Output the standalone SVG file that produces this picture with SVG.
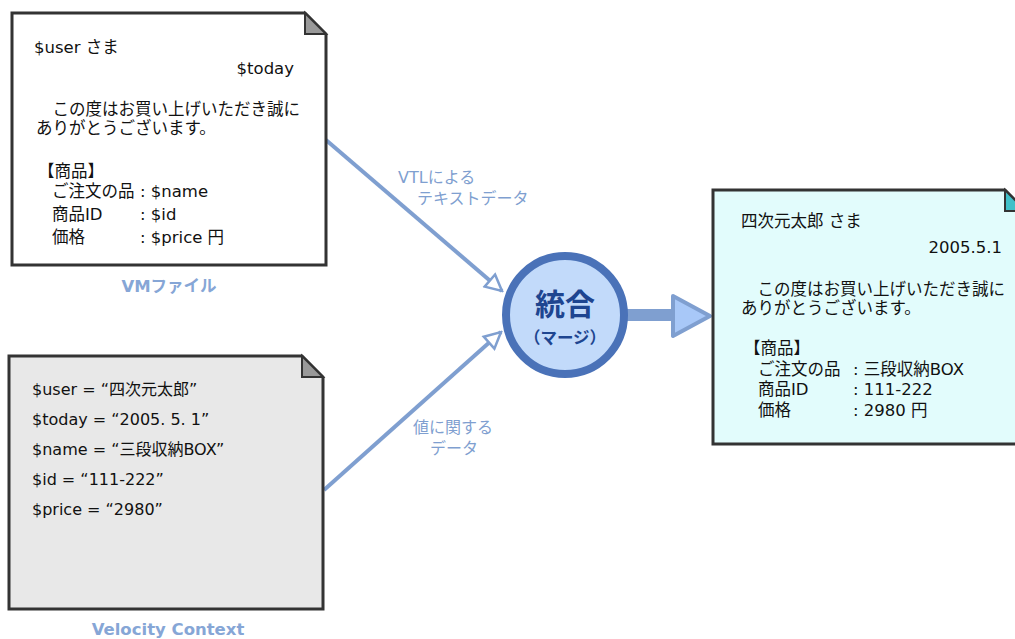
<svg xmlns="http://www.w3.org/2000/svg" width="1015" height="639" viewBox="0 0 1015 639">
<style>
.doc{stroke:#333;stroke-width:3;stroke-linejoin:miter}
.t{font-family:"DejaVu Sans","Noto Sans CJK JP",sans-serif;font-size:16.5px;fill:#111}
.v{font-family:"DejaVu Sans","Noto Sans CJK JP",sans-serif;font-size:16px;fill:#111}
.lab{font-family:"DejaVu Sans","Noto Sans CJK JP",sans-serif;font-size:16.5px;font-weight:bold;fill:#86a6d6}
.cl{font-family:"DejaVu Sans","Noto Sans CJK JP",sans-serif;font-size:16px;fill:#7f9fd0}
.conn{stroke:#7f9fd0;stroke-width:4;fill:none}
</style>
<defs>
<marker id="open" viewBox="0 0 20 20" refX="18" refY="10" markerWidth="20" markerHeight="20" markerUnits="userSpaceOnUse" orient="auto">
<path d="M2,2 L18,10 L2,18 Z" fill="#fff" stroke="#7f9fd0" stroke-width="2.5"/>
</marker>
</defs>
<rect width="1015" height="639" fill="#fff"/>

<g id="connectors">
<line class="conn" x1="326" y1="140" x2="502" y2="291" marker-end="url(#open)"/>
<line class="conn" x1="324" y1="490" x2="501" y2="332" marker-end="url(#open)"/>
<line x1="626" y1="315" x2="674" y2="315" stroke="#7f9fd0" stroke-width="12"/>
<path d="M673,296 L710,316 L673,336 Z" fill="#a8c8f8" stroke="#7f9fd0" stroke-width="4" stroke-linejoin="round"/>
<text class="cl" x="398" y="183">VTLによる</text>
<text class="cl" x="417" y="204">テキストデータ</text>
<text class="cl" x="413" y="433">値に関する</text>
<text class="cl" x="430" y="454">データ</text>
</g>

<g id="vm-file">
<path class="doc" d="M12,13 H305 L326,34 V265 H12 Z" fill="#fff"/>
<path d="M305,13 V34 H326 Z" fill="#999" stroke="#333" stroke-width="2"/>
<text class="t" x="34" y="53">$user さま</text>
<text class="t" x="294" y="74" text-anchor="end">$today</text>
<text class="t" x="36" y="115">　この度はお買い上げいただき誠に</text>
<text class="t" x="36" y="134">ありがとうございます。</text>
<text class="t" x="38" y="177">【商品】</text>
<text class="t" x="52" y="197">ご注文の品</text><text class="t" x="140" y="197">: $name</text>
<text class="t" x="52" y="220">商品ID</text><text class="t" x="140" y="220">: $id</text>
<text class="t" x="52" y="243">価格</text><text class="t" x="140" y="243">: $price 円</text>
<text class="lab" x="169" y="292" text-anchor="middle">VMファイル</text>
</g>

<g id="velocity-context">
<path class="doc" d="M9,356 H302 L323,377 V609 H9 Z" fill="#e8e8e8"/>
<path d="M302,356 V377 H323 Z" fill="#999" stroke="#333" stroke-width="2"/>
<text class="v" x="32" y="395">$user = “四次元太郎”</text>
<text class="v" x="32" y="425">$today = “2005. 5. 1”</text>
<text class="v" x="32" y="455">$name = “三段収納BOX”</text>
<text class="v" x="32" y="485">$id = “111-222”</text>
<text class="v" x="32" y="515">$price = “2980”</text>
<text class="lab" x="168" y="635" text-anchor="middle" font-size="17.5">Velocity Context</text>
</g>

<g id="merge">
<circle cx="565" cy="315" r="59" fill="#c2dafa" stroke="#4a72b8" stroke-width="8"/>
<text x="565" y="315" text-anchor="middle" font-family="'Noto Sans CJK JP',sans-serif" font-size="30" font-weight="bold" fill="#1e4590">統合</text>
<text x="565" y="344" text-anchor="middle" font-family="'Noto Sans CJK JP',sans-serif" font-size="16.5" font-weight="bold" fill="#1e4590">（マージ）</text>
</g>

<g id="result">
<path class="doc" d="M713,190 H1005 L1026,211 V444 H713 Z" fill="#e2fcfc"/>
<path d="M1005,190 V211 H1026 Z" fill="#40c0c8" stroke="#333" stroke-width="2"/>
<text class="t" x="741" y="227">四次元太郎 さま</text>
<text class="t" x="1002" y="253" text-anchor="end">2005.5.1</text>
<text class="t" x="741" y="295">　この度はお買い上げいただき誠に</text>
<text class="t" x="741" y="314">ありがとうございます。</text>
<text class="t" x="744" y="354">【商品】</text>
<text class="t" x="758" y="375">ご注文の品</text><text class="t" x="853" y="375">: 三段収納BOX</text>
<text class="t" x="758" y="395">商品ID</text><text class="t" x="853" y="395">: 111-222</text>
<text class="t" x="758" y="416">価格</text><text class="t" x="853" y="416">: 2980 円</text>
</g>
</svg>
